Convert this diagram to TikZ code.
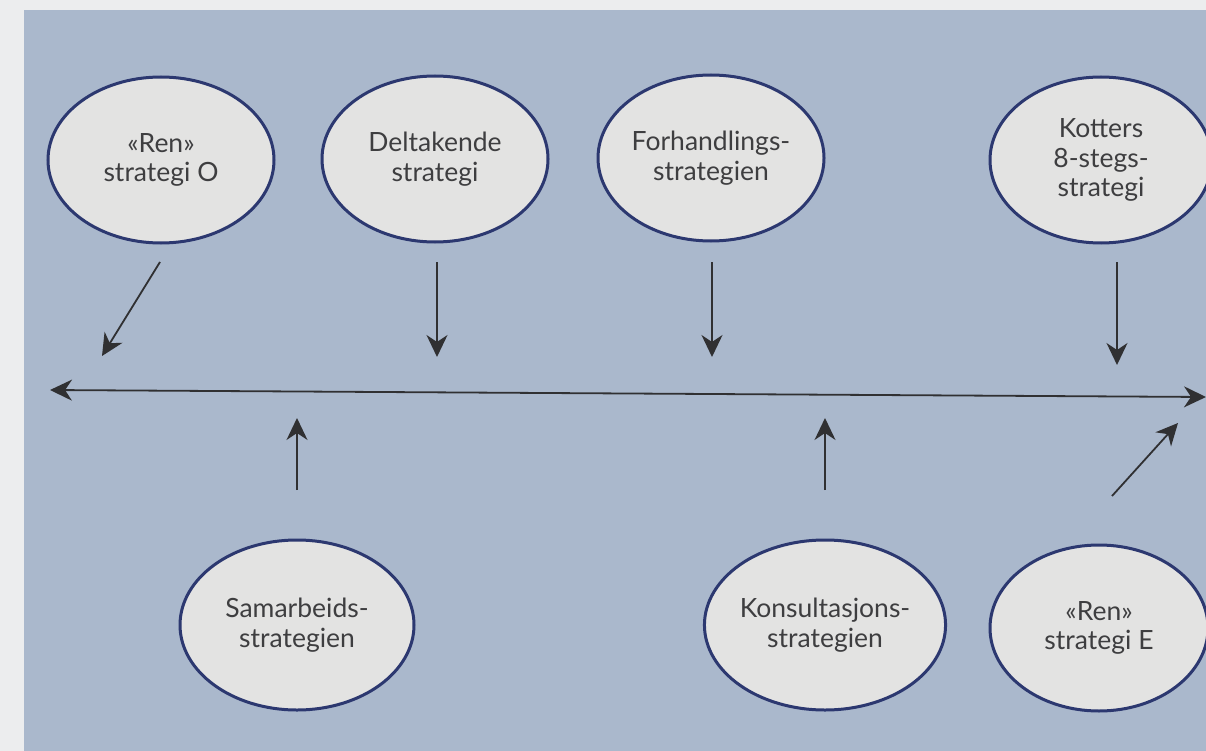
\documentclass[tikz,border=0pt]{standalone}
\usepackage{fontspec}
\setmainfont{Lato}
\usetikzlibrary{shapes.geometric,arrows.meta}
\definecolor{pagebg}{RGB}{236,237,238}
\definecolor{panel}{RGB}{170,184,204}
\definecolor{ellfill}{RGB}{227,227,226}
\definecolor{ellline}{RGB}{44,56,112}
\definecolor{arrcol}{RGB}{48,48,50}
\definecolor{txt}{RGB}{62,62,64}
\tikzset{
  strat/.style={ellipse, draw=ellline, line width=3pt, fill=ellfill,
    minimum width=226pt, minimum height=166pt, inner sep=0pt,
    align=center, text=txt, font=\fontsize{26.5}{29.5}\selectfont},
  tip/.tip={Stealth[length=22pt,width=21pt,inset=7pt]},
  arr/.style={draw=arrcol, line width=1.8pt, -tip},
  darr/.style={draw=arrcol, line width=1.8pt, tip-tip}
}
\begin{document}
\begin{tikzpicture}[x=1pt,y=-1pt]
\useasboundingbox (0,0) rectangle (1206,751);
\fill[pagebg] (0,0) rectangle (1206,751);
\fill[panel] (24,10) rectangle (1206,751);

% top ellipses
\node[strat] (o) at (161,160) {«Ren»\\strategi O};
\node[strat] (d) at (435,159) {Deltakende\\strategi};
\node[strat] (f) at (711,158) {Forhandlings-\\strategien};
\node[strat, minimum width=222pt] (k) at (1101,160) {Kotters\\8-stegs-\\strategi};
% bottom ellipses
\node[strat, minimum width=234pt, minimum height=170pt] (s) at (297,625) {Samarbeids-\\strategien};
\node[strat, minimum width=234pt, minimum height=170pt] (ko) at (825,625) {Konsultasjons-\\strategien};
\node[strat, minimum width=218pt] (e) at (1099,628) {«Ren»\\strategi E};

% main axis
\coordinate (L) at (50,390);
\coordinate (R) at (1206,397);
\draw[darr] (L) -- (R);

% arrow end points
\coordinate (o1) at (160,262);
\coordinate (o2) at (102,356);
\coordinate (d1) at (437,262);
\coordinate (d2) at (437,357);
\coordinate (f1) at (712,262);
\coordinate (f2) at (712,357);
\coordinate (k1) at (1117,262);
\coordinate (k2) at (1117,365);
\coordinate (s1) at (297,490);
\coordinate (s2) at (297,418);
\coordinate (ko1) at (825,490);
\coordinate (ko2) at (825,418);
\coordinate (e1) at (1112,496);
\coordinate (e2) at (1178,423);

\draw[arr] (o1) -- (o2);
\draw[arr] (d1) -- (d2);
\draw[arr] (f1) -- (f2);
\draw[arr] (k1) -- (k2);
\draw[arr] (s1) -- (s2);
\draw[arr] (ko1) -- (ko2);
\draw[arr] (e1) -- (e2);
\end{tikzpicture}
\end{document}
